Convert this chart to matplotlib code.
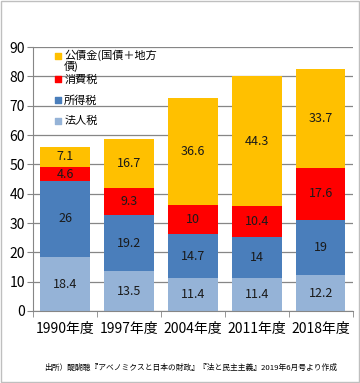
import matplotlib
matplotlib.use("Agg")
import matplotlib.pyplot as plt
from matplotlib.patches import Rectangle
import numpy as np

plt.rcParams['font.family'] = ['Noto Sans CJK JP', 'DejaVu Sans']

# data
years = ['1990年度', '1997年度', '2004年度', '2011年度', '2018年度']
houjin = [18.4, 13.5, 11.4, 11.4, 12.2]       # 法人税
shotoku = [26, 19.2, 14.7, 14, 19]            # 所得税
shouhi = [4.6, 9.3, 10, 10.4, 17.6]           # 消費税
kousai = [7.1, 16.7, 36.6, 44.3, 33.7]        # 公債金
series_names = ['法人税', '所得税', '消費税', '公債金(国債＋地方\n債)']
yticks = [0, 10, 20, 30, 40, 50, 60, 70, 80, 90]
source = '出所）醍醐聰『アベノミクスと日本の財政』『法と民主主義』2019年6月号より作成'

colors = ['#95B3D7', '#4A7EBB', '#FF0000', '#FFC000']

fig = plt.figure(figsize=(3.6, 3.83), dpi=100)
ax = fig.add_axes([0.092, 0.188, 0.888, 0.689])

x = np.arange(len(years))
bottom = np.zeros(len(years))
for vals, col in zip([houjin, shotoku, shouhi, kousai], colors):
    vals = np.array(vals, dtype=float)
    ax.bar(x, vals, width=0.77, bottom=bottom, color=col, zorder=2)
    for xi, b, v in zip(x, bottom, vals):
        ax.text(xi, b + v / 2, '{:g}'.format(v), ha='center', va='center',
                fontsize=9, color='#1a1a1a', zorder=3)
    bottom += vals

ax.set_xlim(-0.5, len(years) - 0.5)
ax.set_ylim(0, 90)
ax.set_yticks(yticks)
ax.tick_params(axis='y', labelsize=10, length=4, color='#868686', pad=2)
ax.yaxis.grid(True, color='#868686', linewidth=0.9, zorder=0)
ax.set_axisbelow(True)

ax.set_xticks(x)
ax.set_xticklabels(years, fontsize=10)
ax.tick_params(axis='x', length=0, pad=8)
# category separators as minor ticks
ax.set_xticks(np.arange(-0.5, len(years), 1), minor=True)
ax.tick_params(axis='x', which='minor', length=4, color='#868686')

for s in ['top', 'right']:
    ax.spines[s].set_visible(False)
for s in ['left', 'bottom']:
    ax.spines[s].set_color('#868686')

# legend drawn by hand, top down (wrapped first label like the original)
marker_y = [0.966, 0.878, 0.799, 0.72]
for yy, i in zip(marker_y, [3, 2, 1, 0]):
    ax.scatter([0.078], [yy], marker='s', s=14, color=colors[i],
               transform=ax.transAxes, zorder=4, clip_on=False)
    if i == 3:
        ax.text(0.097, yy + 0.025, series_names[i], transform=ax.transAxes,
                fontsize=8, va='top', ha='left', zorder=4, linespacing=1.0)
    else:
        ax.text(0.097, yy, series_names[i], transform=ax.transAxes,
                fontsize=8, va='center', ha='left', zorder=4)

fig.text(0.53, 0.04, source, ha='center', va='center', fontsize=5.6)
fig.patches.append(Rectangle((0.003, 0.003), 0.994, 0.994, transform=fig.transFigure,
                             fill=False, edgecolor='#BFBFBF', linewidth=1))

fig.savefig('out.png', dpi=100)
